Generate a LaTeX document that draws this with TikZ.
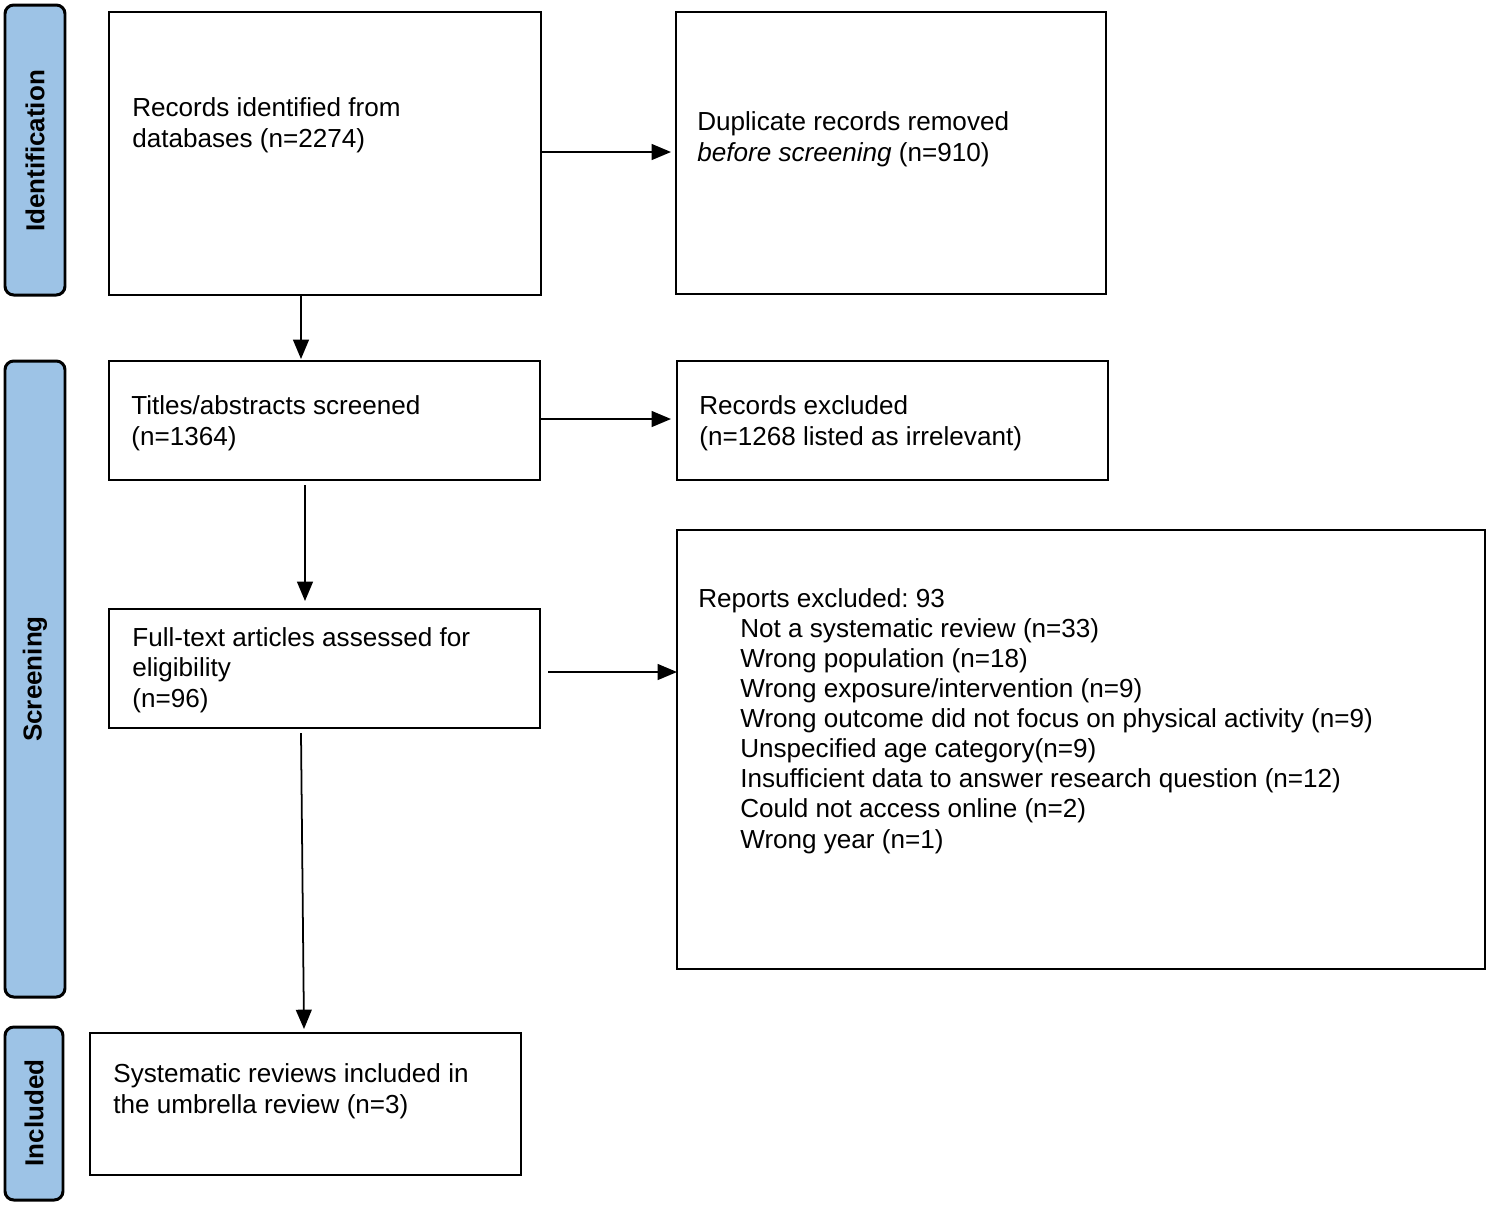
\documentclass[tikz,border=0pt]{standalone}
\usepackage{fontspec}
\setmainfont{Liberation Sans}
\usetikzlibrary{arrows.meta}
\definecolor{barblue}{HTML}{9DC3E6}
\frenchspacing
\begin{document}
\begin{tikzpicture}[x=0.02cm,y=-0.02cm,
  box/.style={draw=black,line width=1.6pt,fill=white},
  bar/.style={draw=black,line width=1.7pt,fill=barblue,rounded corners=5pt},
  bartext/.style={rotate=90,font=\fontsize{14.8}{17}\selectfont\bfseries},
  txt/.style={anchor=base west,inner sep=0pt,align=left,font=\fontsize{14.85}{17.1}\selectfont},
  arr/.style={line width=1pt,-{Triangle[length=11pt,width=9pt]}}]
\useasboundingbox (0,0) rectangle (1489,1205);
% phase bars
\draw[bar] (5,5) rectangle (65,295);
\node[bartext] (lid) at (35,151) {Identification};
\draw[bar] (5,361) rectangle (65,997);
\node[bartext] (lsc) at (35,679) {Screening};
\draw[bar] (5,1027) rectangle (63,1200);
\node[bartext] (lin) at (34,1113) {Included};
% boxes
\draw[box] (109,12) rectangle (541,295);
\draw[box] (676,12) rectangle (1106,294);
\draw[box] (109,361) rectangle (540,480);
\draw[box] (677,361) rectangle (1108,480);
\draw[box] (109,609) rectangle (540,728);
\draw[box] (677,530) rectangle (1485,969);
\draw[box] (90,1033) rectangle (521,1175);
% texts (base anchor = last line baseline)
\node[txt] (ta) at (132,147) {Records identified from\\databases (n=2274)};
\node[txt] (tb) at (697,161) {Duplicate records removed\\\textit{before screening} (n=910)};
\node[txt] (tc) at (131,445) {Titles/abstracts screened\\(n=1364)};
\node[txt] (td) at (699,445) {Records excluded\\(n=1268 listed as irrelevant)};
\node[txt] (te) at (132,707) {Full-text articles assessed for\\eligibility\\(n=96)};
\node[txt] (tf) at (698,848) {Reports excluded: 93\\
\hspace*{0.84cm}Not a systematic review (n=33)\\
\hspace*{0.84cm}Wrong population (n=18)\\
\hspace*{0.84cm}Wrong exposure/intervention (n=9)\\
\hspace*{0.84cm}Wrong outcome did not focus on physical activity (n=9)\\
\hspace*{0.84cm}Unspecified age category(n=9)\\
\hspace*{0.84cm}Insufficient data to answer research question (n=12)\\
\hspace*{0.84cm}Could not access online (n=2)\\
\hspace*{0.84cm}Wrong year (n=1)};
\node[txt] (tg) at (113,1113) {Systematic reviews included in\\the umbrella review (n=3)};
% connectors
\coordinate (a1) at (541,152); \coordinate (b1) at (671,152);
\coordinate (a2) at (301,295); \coordinate (c1) at (301,359);
\coordinate (c2) at (540,419); \coordinate (d1) at (671,419);
\coordinate (c3) at (305,485); \coordinate (e1) at (305,601);
\coordinate (e2) at (548,672); \coordinate (f1) at (677,672);
\coordinate (e3) at (301,733); \coordinate (g1) at (304,1029);
\draw[arr] (a1) -- (b1);
\draw[arr] (a2) -- (c1);
\draw[arr] (c2) -- (d1);
\draw[arr] (c3) -- (e1);
\draw[arr] (e2) -- (f1);
\draw[arr] (e3) -- (g1);
\end{tikzpicture}
\end{document}
